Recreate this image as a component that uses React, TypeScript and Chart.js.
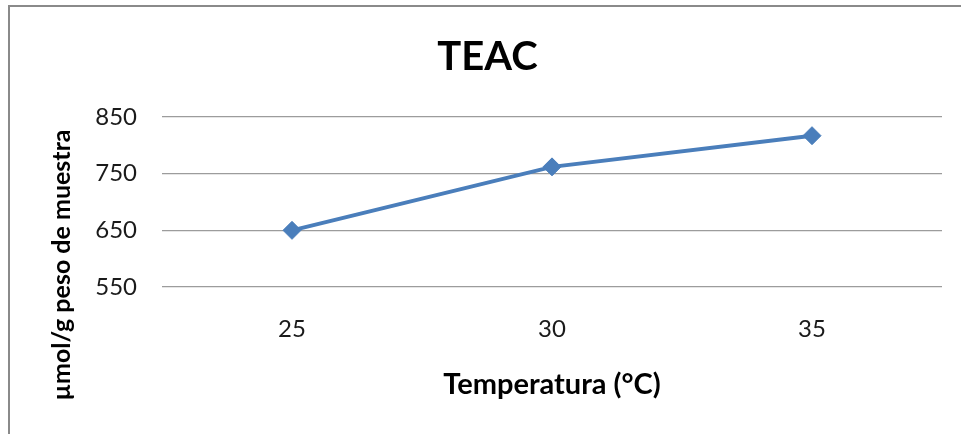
import React, { useEffect, useRef } from "react";
import { Chart, registerables } from "chart.js";

Chart.register(...registerables);

// Temperatures (°C) on the category axis
const temperatures: string[] = ["25", "30", "35"];
// TEAC values, µmol/g of sample
const teacValues: number[] = [650, 762, 817];
// Value axis ticks
const yTicks: number[] = [550, 650, 750, 850];

const chartTitle = "TEAC";
const xTitle = "Temperatura (°C)";
const yTitle = "µmol/g peso de muestra";

const FONT = "Lato, 'Open Sans', sans-serif";
const LINE_BLUE = "#4a7ebb";

const CANVAS_W = 961;
const CANVAS_H = 434;
const PAD_LEFT = 33;
const PLOT_LEFT = 162;
const PLOT_RIGHT = 942;
const PLOT_BOTTOM = 287;

// Rotated value-axis caption, placed beside the tick labels
const yTitlePlugin = {
  id: "yTitleCaption",
  afterDraw(chart: Chart) {
    const ctx = chart.ctx;
    ctx.save();
    ctx.translate(62, 265);
    ctx.rotate(-Math.PI / 2);
    ctx.textAlign = "center";
    ctx.textBaseline = "middle";
    ctx.font = `bold 25px ${FONT}`;
    ctx.fillStyle = "#000000";
    ctx.fillText(yTitle, 0, 0);
    ctx.restore();
  },
};

export default function App() {
  const canvasRef = useRef<HTMLCanvasElement | null>(null);

  useEffect(() => {
    const canvas = canvasRef.current;
    if (!canvas) return;

    const chart = new Chart(canvas, {
      type: "line",
      data: {
        labels: temperatures,
        datasets: [
          {
            label: chartTitle,
            data: teacValues,
            borderColor: LINE_BLUE,
            backgroundColor: LINE_BLUE,
            borderWidth: 4,
            pointStyle: "rectRot",
            pointRadius: 9,
            pointHoverRadius: 9,
            pointBorderWidth: 1,
            pointBorderColor: LINE_BLUE,
            pointBackgroundColor: LINE_BLUE,
            tension: 0,
          },
        ],
      },
      options: {
        responsive: false,
        animation: false,
        devicePixelRatio: 1,
        layout: {
          padding: { left: PAD_LEFT, right: CANVAS_W - PLOT_RIGHT, top: 0, bottom: 0 },
        },
        plugins: {
          legend: { display: false },
          tooltip: { enabled: false },
          title: {
            display: true,
            text: chartTitle,
            color: "#000000",
            font: { family: FONT, size: 40, weight: "bold", lineHeight: 1.2 },
            padding: { top: 33, bottom: 36 },
          },
        },
        scales: {
          x: {
            type: "category",
            offset: true,
            grid: { display: false, drawTicks: false },
            border: { display: false },
            ticks: {
              color: "#1a1a1a",
              padding: 28,
              font: { family: FONT, size: 24, lineHeight: 1.2 },
            },
            title: {
              display: true,
              text: xTitle,
              color: "#000000",
              font: { family: FONT, size: 29, weight: "bold", lineHeight: 1.2 },
              padding: { top: 0, bottom: 32 },
            },
            afterFit(scale: any) {
              scale.height = CANVAS_H - PLOT_BOTTOM;
            },
          },
          y: {
            min: 550,
            max: 850,
            afterBuildTicks(scale: any) {
              scale.ticks = yTicks.map((v) => ({ value: v }));
            },
            grid: { color: "#9c9c9c", lineWidth: 1.3, drawTicks: false },
            border: { display: false },
            ticks: {
              color: "#1a1a1a",
              padding: 25,
              font: { family: FONT, size: 24, lineHeight: 1.2 },
            },
            afterFit(scale: any) {
              scale.width = PLOT_LEFT - PAD_LEFT;
            },
          },
        },
      },
      plugins: [yTitlePlugin],
    });

    if (document.fonts && document.fonts.load) {
      Promise.all([
        document.fonts.load(`bold 40px Lato`),
        document.fonts.load(`24px Lato`),
      ])
        .then(() => chart.update())
        .catch(() => undefined);
    }

    return () => chart.destroy();
  }, []);

  return (
    <div
      style={{
        position: "fixed",
        left: 0,
        top: 0,
        width: CANVAS_W,
        height: CANVAS_H,
        overflow: "hidden",
        background: "#ffffff",
      }}
    >
      <div
        style={{
          position: "absolute",
          left: 8,
          top: 5,
          width: 2000,
          height: 2000,
          borderTop: "2px solid #8a8a8a",
          borderLeft: "2px solid #8a8a8a",
        }}
      />
      <canvas
        ref={canvasRef}
        width={CANVAS_W}
        height={CANVAS_H}
        style={{ position: "absolute", left: 0, top: 0, display: "block" }}
      />
    </div>
  );
}
